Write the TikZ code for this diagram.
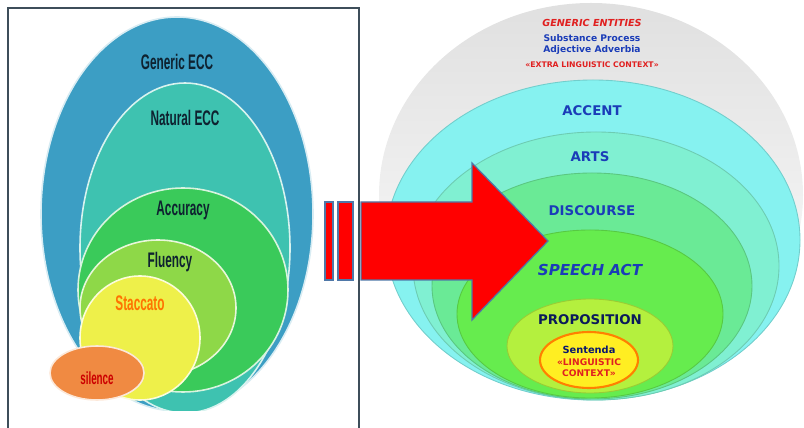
\documentclass[tikz,border=0pt]{standalone}
\usepackage{fontspec}
\setsansfont{DejaVu Sans}
\newfontfamily\narrowfont[FakeStretch=0.56]{Liberation Sans}
\usepackage{tikz}
\usetikzlibrary{positioning}

\definecolor{genblue}{HTML}{3C9EC4}
\definecolor{natteal}{HTML}{3EC2B0}
\definecolor{accgreen}{HTML}{3ACA5A}
\definecolor{flulime}{HTML}{8ED848}
\definecolor{stayellow}{HTML}{EEF04A}
\definecolor{silorange}{HTML}{F08A42}
\definecolor{darktext}{HTML}{0E2230}
\definecolor{greybowl}{HTML}{E0E0E0}
\definecolor{accentcyan}{HTML}{86F2F0}
\definecolor{artsaqua}{HTML}{80F0D2}
\definecolor{discgreen}{HTML}{6AEA96}
\definecolor{speechgreen}{HTML}{66EC4E}
\definecolor{proplime}{HTML}{B4F03E}
\definecolor{sentyellow}{HTML}{FFEE22}
\definecolor{labelblue}{HTML}{1A3CB8}
\definecolor{labelred}{HTML}{E02020}
\definecolor{arrowred}{HTML}{FF0000}
\definecolor{arrowedge}{HTML}{4F78A8}

\begin{document}
\begin{tikzpicture}[
    x=0.02cm, y=-0.02cm,
    leftring/.style={fill=#1, draw=white!80!#1, line width=0.9pt},
    rightring/.style={fill=#1, draw=#1!85!black, line width=0.5pt},
    lefttext/.style={font=\narrowfont\bfseries\fontsize{12}{12}\selectfont, text=darktext, inner sep=0pt},
    bowltext/.style={font=\sffamily\bfseries\fontsize{7.6}{8}\selectfont, text=labelblue, inner sep=0pt},
    tinytext/.style={font=\sffamily\bfseries\fontsize{5.2}{5}\selectfont, inner sep=0pt},
    redbox/.style={fill=arrowred, draw=arrowedge, line width=0.7pt}
]
\useasboundingbox (0,0) rectangle (804,428);

% left picture
\begin{scope}
  \clip (8,8) rectangle (359,411);
  \filldraw[leftring=genblue] (177,214) ellipse [x radius=136, y radius=197];
  \filldraw[leftring=natteal] (185,248) ellipse [x radius=105, y radius=165];
  \filldraw[leftring=accgreen] (183,290) ellipse [x radius=105, y radius=102];
  \filldraw[leftring=flulime] (158,308) ellipse [x radius=78, y radius=68];
  \filldraw[leftring=stayellow] (140,338) ellipse [x radius=60, y radius=62];
  \filldraw[leftring=silorange] (97,373) ellipse [x radius=47, y radius=27];
\end{scope}
\draw[darktext!80, line width=0.9pt] (8,428) -- (8,8) -- (359,8) -- (359,428);

\node[lefttext] (generic) at (177,62) {Generic ECC};
\node[lefttext] (natural) at (185,118) {Natural ECC};
\node[lefttext] (accuracy) at (183,210) {Accuracy};
\node[lefttext] (fluency) at (170,262) {Fluency};
\node[lefttext, text=orange!90!red] (staccato) at (140,303) {Staccato};
\node[lefttext, font=\narrowfont\bfseries\fontsize{10}{10}\selectfont, text=red!80!black] (silence) at (97,378) {silence};

% right picture
\shade[top color=greybowl, bottom color=white] (591,195) ellipse [x radius=212, y radius=192];
\filldraw[rightring=accentcyan] (593,240) ellipse [x radius=207, y radius=160];
\filldraw[rightring=artsaqua] (596,266) ellipse [x radius=183, y radius=134];
\filldraw[rightring=discgreen] (592,286) ellipse [x radius=160, y radius=113];
\filldraw[rightring=speechgreen] (590,314) ellipse [x radius=133, y radius=84];
\filldraw[rightring=proplime] (590,346) ellipse [x radius=83, y radius=47];
\filldraw[fill=sentyellow, draw=orange, line width=1.2pt] (589,360) ellipse [x radius=49, y radius=28];

\node[tinytext, font=\sffamily\bfseries\itshape\fontsize{5.5}{5}\selectfont, text=labelred] (entities) at (592,23) {GENERIC ENTITIES};
\node[tinytext, text=labelblue] (substance) at (592,38) {Substance Process};
\node[tinytext, text=labelblue] (adjective) at (592,50) {Adjective Adverbia};
\node[tinytext, font=\sffamily\bfseries\fontsize{4.4}{4}\selectfont, text=labelred] (extra) at (592,65) {«EXTRA LINGUISTIC CONTEXT»};

\node[bowltext] (accent) at (592,111) {ACCENT};
\node[bowltext] (arts) at (590,157) {ARTS};
\node[bowltext] (discourse) at (592,211) {DISCOURSE};
\node[bowltext, font=\sffamily\bfseries\itshape\fontsize{8.6}{9}\selectfont] (speech) at (590,270) {SPEECH ACT};
\node[bowltext, text=darktext!80!blue] (proposition) at (590,320) {PROPOSITION};

\node[tinytext, font=\sffamily\bfseries\fontsize{5.6}{6}\selectfont, text=darktext!70!blue] (sentenda) at (589,350) {Sentenda};
\node[tinytext, text=labelred] (linguistic) [below=2.2pt of sentenda] {«LINGUISTIC};
\node[tinytext, text=labelred] (context) [below=2.2pt of linguistic] {CONTEXT»};

% striped arrow
\filldraw[redbox] (325,202) rectangle (333,280);
\filldraw[redbox] (338,202) rectangle (353,280);
\filldraw[redbox] (361,202) -- (472,202) -- (472,163) -- (548,241)
    -- (472,320) -- (472,280) -- (361,280) -- cycle;
\end{tikzpicture}
\end{document}
